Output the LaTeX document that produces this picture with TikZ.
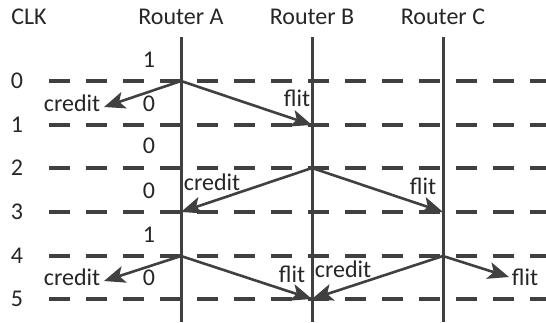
\documentclass[tikz,border=0pt]{standalone}
\usepackage{fontspec}
\setmainfont{Carlito}
\usetikzlibrary{arrows.meta}
\definecolor{ink}{HTML}{404040}
\begin{document}
\begin{tikzpicture}[x=1pt,y=-1pt,
  lbl/.style={inner sep=0pt,font=\fontsize{24}{24}\selectfont,text=black!85},
  router/.style={ink,line width=3pt},
  clkline/.style={ink,line width=3.2pt,dash pattern=on 21pt off 16pt},
  msg/.style={ink,line width=2.6pt,-{Stealth[length=21pt,width=17pt,inset=5pt]}}]
\useasboundingbox (0,0) rectangle (546,322);
% clock rows
\foreach \i/\y in {0/81,1/125,2/168,3/212,4/256,5/299}{
  \coordinate (L\i) at (49,\y);
  \coordinate (R\i) at (546,\y);
  \coordinate (A\i) at (181,\y);
  \coordinate (B\i) at (312,\y);
  \coordinate (C\i) at (443,\y);
  \draw[clkline] (L\i) -- (R\i);
  \node[lbl] (n\i) at (17,\y) {\i};
}
% router time lines
\coordinate (At) at (181,37); \coordinate (Ab) at (181,322);
\coordinate (Bt) at (312,37); \coordinate (Bb) at (312,322);
\coordinate (Ct) at (443,37); \coordinate (Cb) at (443,322);
\draw[router] (At) -- (Ab);
\draw[router] (Bt) -- (Bb);
\draw[router] (Ct) -- (Cb);
% headings
\node[lbl] (clk) at (29,17) {CLK};
\node[lbl] (ra) at (181,17) {Router A};
\node[lbl] (rb) at (312,17) {Router B};
\node[lbl] (rc) at (443,17) {Router C};
% credit counters
\node[lbl] (k1) at (149,60) {1};
\node[lbl] (k2) at (149,104) {0};
\node[lbl] (k3) at (149,146) {0};
\node[lbl] (k4) at (149,191) {0};
\node[lbl] (k5) at (149,235) {1};
\node[lbl] (k6) at (149,278) {0};
% free ends of messages leaving the chain
\coordinate (x0) at (104,107);
\coordinate (x4) at (104,281);
\coordinate (x5) at (509,277);
% messages
\draw[msg] (A0) -- (x0);
\draw[msg] (A0) -- (B1);
\draw[msg] (B2) -- (A3);
\draw[msg] (B2) -- (C3);
\draw[msg] (A4) -- (x4);
\draw[msg] (A4) -- (B5);
\draw[msg] (C4) -- (B5);
\draw[msg] (C4) -- (x5);
% message labels
\node[lbl] (t1) at (72,103) {credit};
\node[lbl] (t2) at (297,98) {flit};
\node[lbl] (t3) at (212,182) {credit};
\node[lbl] (t4) at (423,186) {flit};
\node[lbl] (t5) at (72,277) {credit};
\node[lbl] (t6) at (292,274) {flit};
\node[lbl] (t7) at (343,269) {credit};
\node[lbl] (t8) at (525,277) {flit};
\end{tikzpicture}
\end{document}
